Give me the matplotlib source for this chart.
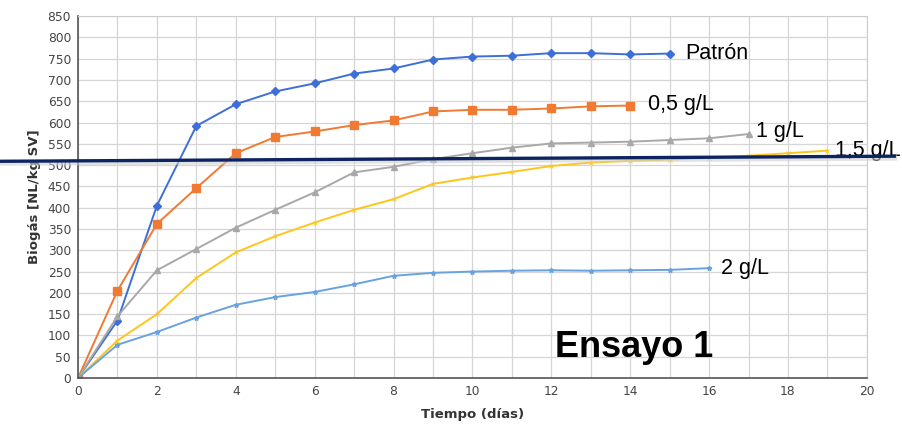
import numpy as np
import matplotlib.pyplot as plt

# Biogas production curves (NL/kg SV) vs time (days)
dias_patron = list(range(0, 16))
patron = [0, 135, 405, 592, 643, 673, 692, 715, 727, 748, 755, 757, 763, 763, 760, 762]

dias_05 = list(range(0, 15))
g05 = [0, 205, 362, 446, 528, 566, 579, 594, 605, 626, 630, 630, 633, 638, 640]

dias_1 = list(range(0, 18))
g1 = [0, 145, 253, 303, 353, 395, 436, 483, 496, 514, 528, 541, 551, 553, 555, 559, 563, 573]

dias_15 = list(range(0, 20))
g15 = [0, 88, 150, 235, 295, 333, 365, 395, 420, 456, 471, 484, 498, 506, 510, 513, 517, 522, 528, 534]

dias_2 = list(range(0, 17))
g2 = [0, 78, 108, 142, 172, 190, 202, 220, 240, 247, 250, 252, 253, 252, 253, 254, 258]

# reference line drawn across the chart
ref_x = [-1.98, 20.7]
ref_y = [509, 521]

fig = plt.figure(figsize=(9.02, 4.24), dpi=100)
ax = fig.add_axes([0.0865, 0.1085, 0.8745, 0.8535])

ax.plot(dias_patron, patron, color='#3e6fd6', marker='D', ms=4, lw=1.4)
ax.plot(dias_05, g05, color='#f07a32', marker='s', ms=6, lw=1.4)
ax.plot(dias_1, g1, color='#a8a8a8', marker='^', ms=5, lw=1.4)
ax.plot(dias_15, g15, color='#ffc51a', marker='x', ms=3, mew=0.6, lw=1.4)
ax.plot(dias_2, g2, color='#68a3e0', marker='*', ms=3.5, lw=1.4)

# horizontal reference line with soft shadow
ax.plot(ref_x, [v - 4 for v in ref_y], color='#d0d0d0', lw=4, alpha=0.6, clip_on=False, zorder=4)
ax.plot(ref_x, ref_y, color='#0c2462', lw=2.4, clip_on=False, zorder=5)

ax.set_xlim(0, 20)
ax.set_ylim(0, 850)
ax.set_xticks(range(0, 21, 2))
ax.set_xticks(range(0, 21), minor=True)
ax.set_yticks(range(0, 851, 50))
ax.grid(True, which='both', color='#d6d6d6', lw=0.9)
ax.set_axisbelow(True)
ax.tick_params(axis='both', which='both', length=0, labelsize=8.8, colors='#444444', pad=5)

for side in ['left', 'bottom']:
    ax.spines[side].set_color('#555555')
    ax.spines[side].set_linewidth(1.2)
for side in ['top', 'right']:
    ax.spines[side].set_color('#cccccc')

ax.set_xlabel('Tiempo (días)', fontsize=9.5, fontweight='bold', color='#333333', labelpad=7)
ax.set_ylabel('Biogás [NL/kg SV]', fontsize=9.5, fontweight='bold', color='#333333', labelpad=5)

lab = dict(fontsize=15.5, family='Liberation Sans', color='black', va='center', clip_on=False)
ax.text(15.4, 762, 'Patrón', **lab)
ax.text(14.45, 642, '0,5 g/L', **lab)
ax.text(17.2, 578, '1 g/L', **lab)
ax.text(19.2, 535, '1,5 g/L', **lab)
ax.text(16.3, 258, '2 g/L', **lab)

ax.text(12.1, 72, 'Ensayo 1', fontsize=26, fontweight='bold', family='Liberation Sans', color='black', va='center')

fig.savefig('out.png', dpi=100)
